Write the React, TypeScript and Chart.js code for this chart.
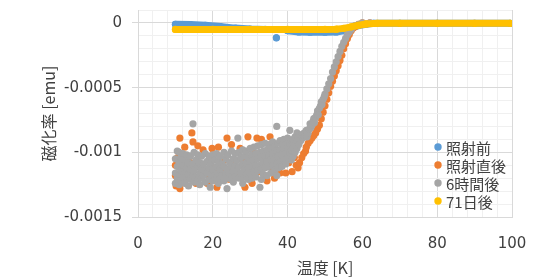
import React, { useEffect, useRef } from "react";
import { Chart, registerables } from "chart.js";

Chart.register(...registerables);

// ---------- data ----------
const seriesNames = ["照射前", "照射直後", "6時間後", "71日後"];
const seriesColors = ["#5B9BD5", "#ED7D31", "#A5A5A5", "#FFC000"];

const xAxisTitle = "温度 [K]";
const yAxisTitle = "磁化率 [emu]";

const xTickLabels = [0, 20, 40, 60, 80, 100];
const yTickLabels = [0, -0.0005, -0.001, -0.0015];

// 照射前 (before irradiation); null entries isolate the single outlier
const beforeIrr: [number, number | null][] = [
  [10, -0.00001], [14, -0.000012], [18, -0.000018], [22, -0.000028], [26, -0.00004],
  [30, -0.000047], [34, -0.00005], [36.5, null], [37, -0.000115], [37.5, null],
  [40, -0.00006], [43, -0.00007], [46, -0.000072], [50, -0.000072], [53, -0.00007],
  [55, -0.00006], [57, -0.00004], [59, -0.00002], [61, -0.00001], [63, -0.000003],
  [70, -0.000003], [80, -0.000003], [90, -0.000003], [99.5, -0.000003],
];

// 照射直後 (right after irradiation)
const rightAfter: [number, number][] = [
  // low-temperature scatter
  [10.0, -0.00110], [10.0, -0.00118], [10.2, -0.00126], [10.6, -0.00104], [11.2, -0.00089],
  [11.2, -0.00128], [11.8, -0.00112], [12.5, -0.00096], [13.0, -0.00118], [14.0, -0.00108],
  [14.4, -0.00085], [14.7, -0.00092], [15.5, -0.00124], [16.0, -0.00095], [16.8, -0.00112],
  [17.4, -0.00098], [18.0, -0.00117], [18.5, -0.00124], [19.2, -0.00106], [19.8, -0.00097],
  [20.5, -0.00112], [21.1, -0.00127], [21.5, -0.00096], [22.5, -0.00113], [23.2, -0.00106],
  [23.8, -0.00089], [24.5, -0.00121], [25.0, -0.00094], [25.8, -0.00110], [26.5, -0.00117],
  [27.3, -0.00097], [28.0, -0.00106], [28.6, -0.00127], [29.4, -0.00088], [30.0, -0.00112],
  [30.5, -0.00124], [31.2, -0.00101], [31.8, -0.00089], [32.5, -0.00115], [33.0, -0.00090],
  [33.8, -0.00108], [34.5, -0.00122], [35.3, -0.00088], [36.0, -0.00113], [36.5, -0.00120],
  [37.3, -0.00102], [38.0, -0.00116], [38.8, -0.00099], [39.5, -0.00116], [40.3, -0.00108],
  [41.2, -0.00115], [41.8, -0.00104], [42.3, -0.00110], [42.8, -0.00112], [43.2, -0.00108],
  [43.8, -0.00104], [44.3, -0.00101],
  // rise
  [44.8, -0.00099], [45.0, -0.00096], [45.5, -0.00093], [46.0, -0.00091], [46.5, -0.00089],
  [47.0, -0.00087], [47.5, -0.00085], [48.0, -0.00082], [48.5, -0.00079], [49.0, -0.00074],
  [49.5, -0.00069], [50.0, -0.00064], [50.5, -0.00059], [51.0, -0.00054], [51.5, -0.00049],
  [52.0, -0.00045], [52.5, -0.00041], [53.0, -0.00037], [53.5, -0.00033], [54.0, -0.00029],
  [54.5, -0.00025], [55.0, -0.00020], [55.5, -0.00016], [56.0, -0.00012], [56.5, -0.00009],
  [57.0, -0.00006], [57.5, -0.00004], [58.0, -0.00003], [58.5, -0.00002], [59.0, -0.00001],
  [60.0, 0], [62.0, 0],
];

// 6時間後 (6 hours after)
const sixHours: [number, number][] = [
  // low-temperature scatter
  [10.0, -0.00105], [10.0, -0.00116], [10.0, -0.00124], [10.5, -0.00099], [10.5, -0.00111],
  [10.5, -0.00120], [11.0, -0.00100], [11.0, -0.00108], [11.0, -0.00117], [11.0, -0.00125],
  [11.5, -0.00104], [11.5, -0.00114], [11.5, -0.00122], [12.0, -0.00101], [12.0, -0.00110],
  [12.0, -0.00119], [12.5, -0.00106], [12.5, -0.00115], [12.5, -0.00124], [13.0, -0.00102],
  [13.0, -0.00112], [13.0, -0.00120], [13.5, -0.00108], [13.5, -0.00117], [13.5, -0.00126],
  [14.0, -0.00103], [14.0, -0.00113], [14.0, -0.00121], [14.7, -0.00078], [14.7, -0.00109],
  [14.7, -0.00118], [15.0, -0.00100], [15.0, -0.00114], [15.0, -0.00123], [15.5, -0.00106],
  [15.5, -0.00119], [16.0, -0.00102], [16.0, -0.00111], [16.0, -0.00121], [16.5, -0.00108],
  [16.5, -0.00116], [16.5, -0.00125], [17.0, -0.00103], [17.0, -0.00113], [17.0, -0.00120],
  [17.5, -0.00109], [17.5, -0.00118], [18.0, -0.00101], [18.0, -0.00114], [18.0, -0.00123],
  [18.5, -0.00107], [18.5, -0.00116], [19.0, -0.00103], [19.0, -0.00112], [19.0, -0.00121],
  [19.3, -0.00127], [19.5, -0.00108], [19.5, -0.00117], [20.0, -0.00102], [20.0, -0.00113],
  [20.0, -0.00122], [20.5, -0.00106], [20.5, -0.00118], [21.0, -0.00101], [21.0, -0.00111],
  [21.0, -0.00120], [21.5, -0.00107], [21.5, -0.00116], [21.5, -0.00124], [22.0, -0.00103],
  [22.0, -0.00113], [22.0, -0.00121], [22.5, -0.00109], [22.5, -0.00118], [23.0, -0.00100],
  [23.0, -0.00111], [23.0, -0.00122], [23.5, -0.00105], [23.5, -0.00116], [23.8, -0.00128],
  [24.0, -0.00102], [24.0, -0.00113], [24.0, -0.00120], [24.5, -0.00108], [24.5, -0.00117],
  [25.0, -0.00099], [25.0, -0.00111], [25.0, -0.00121], [25.5, -0.00105], [25.5, -0.00115],
  [25.5, -0.00123], [26.0, -0.00101], [26.0, -0.00110], [26.0, -0.00119], [26.5, -0.00106],
  [26.5, -0.00114], [26.7, -0.00089], [27.0, -0.00100], [27.0, -0.00111], [27.0, -0.00120],
  [27.5, -0.00104], [27.5, -0.00116], [28.0, -0.00098], [28.0, -0.00109], [28.0, -0.00124],
  [28.5, -0.00103], [28.5, -0.00113], [28.5, -0.00119], [29.0, -0.00099], [29.0, -0.00108],
  [29.0, -0.00117], [29.5, -0.00104], [29.5, -0.00112], [29.5, -0.00121], [30.0, -0.00097],
  [30.0, -0.00107], [30.0, -0.00116], [30.5, -0.00102], [30.5, -0.00111], [30.5, -0.00120],
  [31.0, -0.00096], [31.0, -0.00106], [31.0, -0.00115], [31.5, -0.00101], [31.5, -0.00110],
  [31.5, -0.00119], [32.0, -0.00095], [32.0, -0.00105], [32.0, -0.00114], [32.6, -0.00100],
  [32.6, -0.00110], [32.6, -0.00127], [33.0, -0.00094], [33.0, -0.00104], [33.0, -0.00113],
  [33.0, -0.00121], [33.5, -0.00099], [33.5, -0.00108], [33.5, -0.00117], [34.0, -0.00093],
  [34.0, -0.00103], [34.0, -0.00112], [34.5, -0.00098], [34.5, -0.00107], [34.5, -0.00118],
  [35.0, -0.00094], [35.0, -0.00102], [35.0, -0.00111], [35.5, -0.00097], [35.5, -0.00106],
  [35.5, -0.00116], [36.0, -0.00092], [36.0, -0.00101], [36.0, -0.00110], [36.5, -0.00096],
  [36.5, -0.00105], [36.5, -0.00114], [37.1, -0.00080], [37.1, -0.00099], [37.1, -0.00109],
  [37.1, -0.00118], [37.5, -0.00093], [37.5, -0.00103], [37.5, -0.00112], [38.0, -0.00091],
  [38.0, -0.00098], [38.0, -0.00107], [38.5, -0.00095], [38.5, -0.00102], [38.5, -0.00111],
  [39.0, -0.00090], [39.0, -0.00097], [39.0, -0.00106], [39.5, -0.00094], [39.5, -0.00101],
  [39.5, -0.00109], [40.0, -0.00089], [40.0, -0.00096], [40.0, -0.00104], [40.6, -0.00083],
  [40.6, -0.00093], [40.6, -0.00100], [41.0, -0.00091], [41.0, -0.00098], [41.0, -0.00106],
  [41.5, -0.00090], [41.5, -0.00096], [41.5, -0.00103], [42.0, -0.00088], [42.0, -0.00094],
  [42.0, -0.00100], [42.5, -0.00085], [42.5, -0.00091], [42.5, -0.00097], [43.0, -0.00088],
  [43.0, -0.00094], [43.5, -0.00087], [43.5, -0.00091], [44.0, -0.00086], [44.0, -0.00089],
  [44.5, -0.00085], [44.5, -0.00088],
  // rise
  [45.0, -0.00083], [45.2, -0.00088], [45.5, -0.00085], [45.8, -0.00082], [46.0, -0.00078],
  [46.2, -0.00081], [46.5, -0.00079], [46.8, -0.00076], [47.0, -0.00074], [47.2, -0.00077],
  [47.5, -0.00073], [47.8, -0.00071], [48.0, -0.00068], [48.2, -0.00071], [48.5, -0.00066],
  [48.8, -0.00064], [49.0, -0.00061], [49.2, -0.00063], [49.5, -0.00059], [49.8, -0.00057],
  [50.0, -0.00055], [50.5, -0.00051], [51.0, -0.00047], [51.5, -0.00043], [52.0, -0.00038],
  [52.5, -0.00034], [53.0, -0.00030], [53.5, -0.00026], [54.0, -0.00022], [54.5, -0.00018],
  [55.0, -0.00015], [55.5, -0.00012], [56.0, -0.00009], [56.5, -0.00007], [57.0, -0.00005],
  [57.5, -0.00003], [58.0, -0.00002], [59.0, -0.00001], [60.0, 0], [62.0, 0],
];

// 71日後 (71 days after)
const days71: [number, number][] = [
  [10, -0.00005], [20, -0.00005], [30, -0.00005], [40, -0.00005], [50, -0.00005],
  [53, -0.000048], [55, -0.000042], [57, -0.00003], [59, -0.000018], [61, -0.000008],
  [64, -0.000003], [70, -0.000003], [80, -0.000003], [90, -0.000003], [99.5, -0.000003],
];

// ---------- helpers ----------
const near = (a: number, b: number) => Math.abs(a - b) < 1e-9;
const isMajorY = (v: number) => yTickLabels.some((t) => near(t, v));
const isMajorX = (v: number) => xTickLabels.some((t) => near(t, v));

const toPts = (arr: [number, number | null][]) => arr.map(([x, y]) => ({ x, y }));

const TEXT = "#404040";
const MAJOR = "#d9d9d9";
const MINOR = "#f0f0f0";
const TICK_FONT = { family: "'DejaVu Sans', 'Noto Sans CJK JP', sans-serif", size: 15 };
const TITLE_FONT = { family: "'Noto Sans CJK JP', sans-serif", size: 16 };

const zeroPad = (s: any) => {
  s.paddingLeft = 0;
  s.paddingRight = 0;
  s.paddingTop = 0;
  s.paddingBottom = 0;
};

const insideLegend = {
  id: "insideLegend",
  afterDraw(chart: any) {
    const { ctx, chartArea } = chart;
    ctx.save();
    ctx.font = "15px 'Noto Sans CJK JP', sans-serif";
    ctx.textBaseline = "middle";
    ctx.textAlign = "left";
    seriesNames.forEach((name, i) => {
      const x = chartArea.right - 74;
      const y = chartArea.bottom - 70 + i * 18;
      ctx.fillStyle = seriesColors[i];
      ctx.beginPath();
      ctx.arc(x, y, 3.7, 0, Math.PI * 2);
      ctx.fill();
      ctx.fillStyle = TEXT;
      ctx.fillText(name, x + 8, y + 1);
    });
    ctx.restore();
  },
};

export default function App() {
  const ref = useRef<HTMLCanvasElement | null>(null);

  useEffect(() => {
    if (!ref.current) return;
    const pointCommon = { pointRadius: 3.6, pointHoverRadius: 3.6, pointBorderWidth: 0 };
    const chart = new Chart(ref.current, {
      type: "scatter",
      data: {
        datasets: [
          {
            label: seriesNames[0],
            data: toPts(beforeIrr),
            backgroundColor: seriesColors[0],
            borderColor: seriesColors[0],
            showLine: true,
            borderWidth: 7,
            borderCapStyle: "round",
            borderJoinStyle: "round",
            spanGaps: false,
            order: 3,
            ...pointCommon,
          },
          {
            label: seriesNames[1],
            data: toPts(rightAfter),
            backgroundColor: seriesColors[1],
            borderColor: seriesColors[1],
            order: 2,
            ...pointCommon,
          },
          {
            label: seriesNames[2],
            data: toPts(sixHours),
            backgroundColor: seriesColors[2],
            borderColor: seriesColors[2],
            order: 1,
            ...pointCommon,
          },
          {
            label: seriesNames[3],
            data: toPts(days71),
            backgroundColor: seriesColors[3],
            borderColor: seriesColors[3],
            showLine: true,
            borderWidth: 7,
            borderCapStyle: "round",
            borderJoinStyle: "round",
            order: 0,
            ...pointCommon,
          },
        ] as any,
      },
      options: {
        animation: false,
        responsive: false,
        layout: { padding: { left: 35, right: 22, top: 10, bottom: 0 } },
        plugins: { legend: { display: false }, tooltip: { enabled: false } },
        scales: {
          x: {
            type: "linear",
            min: 0,
            max: 100,
            afterFit: (s: any) => {
              s.height = 61;
              zeroPad(s);
            },
            afterBuildTicks: (s: any) => {
              const t = [];
              for (let i = 0; i <= 25; i++) t.push({ value: i * 4 });
              s.ticks = t;
            },
            ticks: {
              autoSkip: false,
              maxRotation: 0,
              padding: 18,
              color: TEXT,
              font: TICK_FONT,
              callback: (v: any) => {
                const n = Number(v);
                const f = xTickLabels.find((t) => near(t, n));
                return f === undefined ? "" : String(f);
              },
            },
            grid: {
              drawTicks: false,
              color: (c: any) => (isMajorX(c.tick?.value ?? 0) ? MAJOR : MINOR),
            },
            border: { color: MAJOR },
            title: {
              display: true,
              text: xAxisTitle,
              color: TEXT,
              font: TITLE_FONT,
              padding: { top: 0, bottom: 0 },
            },
          },
          y: {
            type: "linear",
            min: -0.0015,
            max: 0.0001,
            afterFit: (s: any) => {
              s.width = 103;
              zeroPad(s);
            },
            afterBuildTicks: (s: any) => {
              const t = [];
              for (let i = -15; i <= 1; i++) t.push({ value: i * 0.0001 });
              s.ticks = t;
            },
            ticks: {
              autoSkip: false,
              padding: 10,
              color: TEXT,
              font: TICK_FONT,
              callback: (v: any) => {
                const n = Number(v);
                const f = yTickLabels.find((t) => near(t, n));
                return f === undefined ? "" : String(f);
              },
            },
            grid: {
              drawTicks: true,
              tickLength: 6,
              color: (c: any) => (isMajorY(c.tick?.value ?? 0) ? MAJOR : MINOR),
              tickColor: (c: any) => (isMajorY(c.tick?.value ?? 0) ? MAJOR : "rgba(0,0,0,0)"),
            },
            border: { color: MAJOR },
            title: {
              display: true,
              text: yAxisTitle,
              color: TEXT,
              font: TITLE_FONT,
              padding: { top: 4, bottom: 4 },
            },
          },
        },
      },
      plugins: [insideLegend],
    } as any);
    return () => chart.destroy();
  }, []);

  return (
    <div style={{ position: "absolute", left: 0, top: 0, width: 534, height: 278, background: "#fff" }}>
      <canvas ref={ref} width={534} height={278} style={{ display: "block" }} />
    </div>
  );
}
